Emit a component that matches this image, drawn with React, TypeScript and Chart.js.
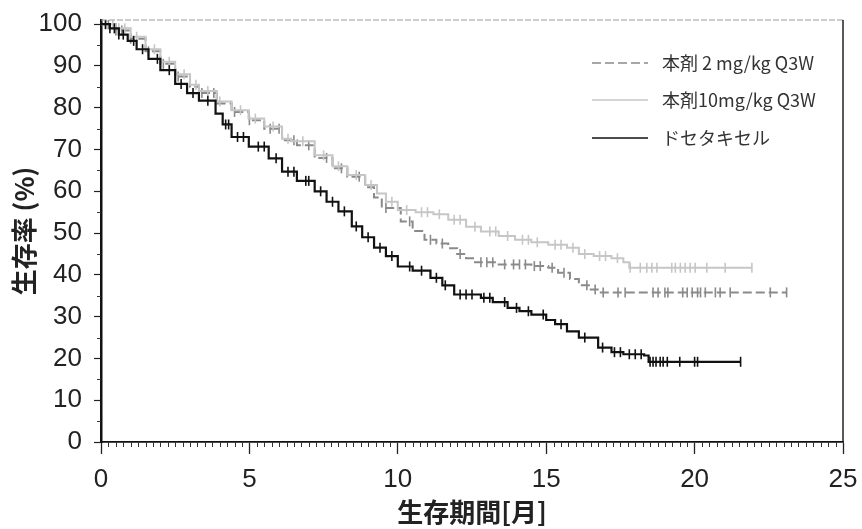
import React, { useEffect, useRef } from "react";
import { Chart, registerables } from "chart.js";

Chart.register(...registerables);

// ---- data ----
const X_TICKS = [0, 5, 10, 15, 20, 25];
const Y_TICKS = [0, 10, 20, 30, 40, 50, 60, 70, 80, 90, 100];

const SERIES_LABELS = ["本剤 2 mg/kg Q3W", "本剤10mg/kg Q3W", "ドセタキセル"];

const T_2MG = [0, 0.5, 1, 1.5, 2, 2.5, 3, 3.3, 3.9, 4.4, 4.98, 5.5, 6.1, 6.6, 7.2, 7.8, 8.3, 8.9, 9.2, 9.46, 10.1, 10.5, 10.9, 11.3, 11.7, 12.0, 12.3, 12.6, 13.4, 14.5, 15.07, 15.4, 15.8, 16.1, 16.5, 16.8, 23.1];
const S_2MG = [100, 98.5, 96.5, 93.5, 90.5, 87.5, 85, 83.5, 81, 79, 77, 75, 72.2, 71, 68, 65.5, 63.5, 61, 58.5, 56, 52.8, 50.5, 48.4, 47.5, 46.4, 45, 44, 43, 42.5, 42.1, 41.7, 40.5, 39, 37.5, 36.5, 35.8, 35.8];
const C_2MG = [0.25, 0.5, 0.7, 1.0, 1.6, 2.1, 2.6, 3.4, 3.8, 4.5, 5.0, 5.7, 6.0, 6.5, 7.0, 7.6, 8.1, 8.7, 9.6, 10.4, 11.1, 11.5, 12.1, 12.8, 13.0, 13.2, 13.6, 13.9, 14.1, 14.3, 14.6, 14.8, 15.2, 15.6, 16.37, 16.65, 16.92, 17.42, 17.66, 18.6, 18.77, 19.0, 19.1, 19.6, 19.75, 19.92, 20.1, 20.2, 20.36, 20.7, 20.86, 21.2, 22.55, 23.1];

const T_10MG = [0, 0.5, 1, 1.5, 2, 2.5, 3, 3.3, 3.9, 4.4, 4.98, 5.5, 6.1, 6.4, 7.2, 7.8, 8.3, 8.9, 9.3, 9.6, 10.0, 10.6, 11.2, 11.7, 12.3, 12.8, 13.4, 13.95, 14.5, 15.07, 15.7, 16.1, 16.6, 17.2, 17.6, 17.8, 21.93];
const S_10MG = [100, 99, 97, 94, 91, 88, 85.5, 84, 81.5, 79.4, 77.4, 75.5, 72.6, 72, 68.6, 66, 63.9, 61.5, 59.5, 57.5, 55.5, 55, 54.5, 53.2, 51.5, 50.4, 49.3, 48.4, 47.8, 47.2, 46.5, 45, 44.5, 44, 43, 41.7, 41.7];
const C_10MG = [0.2, 0.4, 0.6, 0.8, 1.2, 1.8, 2.3, 2.8, 3.2, 3.6, 4.0, 4.7, 5.2, 5.8, 6.3, 6.8, 7.5, 8.0, 8.6, 9.1, 9.8, 10.3, 10.8, 11.0, 11.4, 11.9, 12.1, 12.6, 13.1, 13.3, 13.7, 14.2, 14.4, 14.7, 15.3, 15.5, 15.9, 16.3, 16.8, 17.0, 17.4, 17.83, 18.17, 18.39, 18.56, 18.73, 19.23, 19.35, 19.52, 19.68, 19.85, 20.02, 20.41, 21.03, 21.93];

const T_DOC = [0, 0.3, 0.6, 0.9, 1.2, 1.6, 2.0, 2.5, 2.9, 3.3, 3.86, 4.1, 4.4, 4.98, 5.65, 6.1, 6.6, 7.2, 7.6, 8.0, 8.45, 8.8, 9.2, 9.6, 10.0, 10.5, 11.1, 11.5, 11.9, 12.8, 13.2, 13.7, 14.1, 14.5, 15.0, 15.3, 15.7, 16.1, 16.75, 17.2, 17.6, 18.3, 18.45, 21.55];
const S_DOC = [100, 99, 97.5, 96, 94, 91.7, 89, 85.7, 83.5, 81.7, 78.6, 76, 73, 70.7, 67.9, 64.7, 62.5, 60, 57.5, 55.2, 51.6, 49, 46.5, 44.5, 42, 41, 39.3, 37.5, 35.3, 34.5, 33.5, 32.1, 31.3, 30.5, 29.2, 28.2, 26.5, 25, 22.6, 21.5, 21.0, 20.7, 19.2, 19.2];
const C_DOC = [0.15, 0.3, 0.45, 0.6, 0.75, 1.1, 1.4, 1.9, 2.3, 2.7, 3.1, 3.6, 4.2, 4.3, 4.6, 4.8, 5.3, 5.5, 5.9, 6.3, 6.5, 6.9, 7.0, 7.4, 7.8, 8.2, 8.6, 9.0, 9.4, 9.8, 10.4, 10.8, 11.3, 11.6, 12.1, 12.3, 12.5, 12.9, 13.1, 13.6, 14.0, 14.4, 14.9, 15.5, 16.3, 16.9, 17.3, 17.5, 17.8, 18.0, 18.2, 18.5, 18.6, 18.7, 18.84, 18.94, 19.08, 19.5, 20.0, 20.1, 21.55];

// ---- styles ----
const COLORS = ["#8a8a8a", "#c6c6c6", "#111111"];
const DASHES: number[][] = [[9, 4], [], []];

const FONT_NUM = "'Liberation Sans', Arial, sans-serif";
const FONT_JP = "'Noto Sans CJK JP', 'Noto Sans', sans-serif";

function zip(ts: number[], ss: number[]) {
  return ts.map((t, i) => ({ x: t, y: ss[i] }));
}

function valueAt(ts: number[], ss: number[], t: number) {
  let v = ss[0];
  for (let i = 0; i < ts.length; i++) {
    if (ts[i] <= t) v = ss[i];
    else break;
  }
  return v;
}

function censorPoints(cs: number[], ts: number[], ss: number[]) {
  return cs.map((c) => ({ x: c, y: valueAt(ts, ss, c) }));
}

const framePlugin = {
  id: "frameAndMinor",
  afterDraw(chart: any) {
    const { ctx, chartArea, scales } = chart;
    const xs = scales.x;
    const ys = scales.y;
    ctx.save();
    // top & right border
    ctx.strokeStyle = "#9a9a9a";
    ctx.lineWidth = 1.2;
    ctx.setLineDash([6, 2]);
    ctx.beginPath();
    ctx.moveTo(chartArea.left, chartArea.top);
    ctx.lineTo(chartArea.right, chartArea.top);
    ctx.stroke();
    ctx.setLineDash([]);
    ctx.strokeStyle = "#222";
    ctx.lineWidth = 1.5;
    ctx.beginPath();
    ctx.moveTo(chartArea.right, chartArea.top);
    ctx.lineTo(chartArea.right, chartArea.bottom);
    ctx.stroke();
    // minor ticks on x
    ctx.strokeStyle = "#333";
    ctx.lineWidth = 1;
    ctx.beginPath();
    for (let i = 1; i < 100; i++) {
      const v = i * 0.25;
      if (i % 20 === 0) continue;
      const px = Math.round(xs.getPixelForValue(v)) + 0.5;
      ctx.moveTo(px, chartArea.bottom);
      ctx.lineTo(px, chartArea.bottom + 5);
    }
    // minor ticks on y
    for (let v = 5; v < 100; v += 10) {
      const py = Math.round(ys.getPixelForValue(v)) + 0.5;
      ctx.moveTo(chartArea.left, py);
      ctx.lineTo(chartArea.left - 4, py);
    }
    ctx.stroke();

    // legend
    const rows = [63, 100, 138];
    for (let i = 0; i < 3; i++) {
      const y = rows[i];
      ctx.strokeStyle = COLORS[i];
      ctx.lineWidth = 1.6;
      ctx.setLineDash(DASHES[i]);
      ctx.beginPath();
      ctx.moveTo(592, y);
      ctx.lineTo(648, y);
      ctx.stroke();
      ctx.setLineDash([]);
      ctx.fillStyle = "#333";
      ctx.font = "18px " + FONT_JP;
      ctx.textBaseline = "middle";
      ctx.textAlign = "left";
      ctx.fillText(SERIES_LABELS[i], 662, y);
    }
    ctx.restore();
  },
};

export default function App() {
  const ref = useRef<HTMLCanvasElement | null>(null);

  useEffect(() => {
    document.body.style.margin = "0";
    const canvas = ref.current;
    if (!canvas) return;

    const curves = [
      [T_2MG, S_2MG, C_2MG],
      [T_10MG, S_10MG, C_10MG],
      [T_DOC, S_DOC, C_DOC],
    ];

    const datasets: any[] = [];
    curves.forEach(([ts, ss], i) => {
      datasets.push({
        type: "line",
        label: SERIES_LABELS[i],
        data: zip(ts, ss),
        borderColor: COLORS[i],
        borderWidth: i === 2 ? 2.2 : 2,
        borderDash: DASHES[i],
        stepped: "before",
        pointRadius: 0,
        fill: false,
        order: 3 - i,
      });
    });
    curves.forEach(([ts, ss, cs], i) => {
      datasets.push({
        type: "line",
        label: SERIES_LABELS[i] + " censor",
        data: censorPoints(cs, ts, ss),
        showLine: false,
        borderColor: COLORS[i],
        backgroundColor: COLORS[i],
        pointStyle: "line",
        rotation: 90,
        pointRadius: 5,
        pointBorderWidth: 1.6,
        pointHoverRadius: 5,
        order: 3 - i,
      });
    });

    const chart = new Chart(canvas, {
      type: "line",
      data: { datasets },
      options: {
        animation: false,
        responsive: false,
        maintainAspectRatio: false,
        events: [],
        layout: { padding: { top: 20, right: 19, bottom: 0, left: 0 } },
        plugins: { legend: { display: false }, tooltip: { enabled: false } },
        scales: {
          x: {
            type: "linear",
            min: 0,
            max: 25,
            afterBuildTicks: (s: any) => {
              s.ticks = X_TICKS.map((v) => ({ value: v }));
            },
            afterFit: (s: any) => {
              s.height = 87;
              s.paddingRight = 0;
              s.paddingLeft = 0;
            },
            ticks: {
              color: "#222",
              font: { family: FONT_NUM, size: 26 },
              padding: 10,
              maxRotation: 0,
              autoSkip: false,
            },
            grid: {
              drawOnChartArea: false,
              drawTicks: true,
              tickLength: 12,
              tickColor: "#222",
              tickWidth: 1.3,
            },
            border: { display: true, color: "#111", width: 1.8 },
            title: {
              display: true,
              text: "生存期間[月]",
              color: "#222",
              font: { family: FONT_JP, size: 26, weight: "bold" },
              padding: { top: 0, bottom: 1 },
            },
          },
          y: {
            type: "linear",
            min: 0,
            max: 101,
            afterBuildTicks: (s: any) => {
              s.ticks = Y_TICKS.map((v) => ({ value: v }));
            },
            afterFit: (s: any) => {
              s.width = 101;
              s.paddingTop = 0;
              s.paddingBottom = 0;
            },
            ticks: {
              color: "#222",
              font: { family: FONT_NUM, size: 26 },
              padding: 12,
              autoSkip: false,
            },
            grid: {
              drawOnChartArea: false,
              drawTicks: true,
              tickLength: 7,
              tickColor: "#222",
              tickWidth: 1.2,
            },
            border: { display: true, color: "#111", width: 2.5 },
            title: {
              display: true,
              text: "生存率 (%)",
              color: "#222",
              font: { family: FONT_JP, size: 26, weight: "bold" },
              padding: { top: 9, bottom: 0 },
            },
          },
        },
      } as any,
      plugins: [framePlugin],
    });

    return () => chart.destroy();
  }, []);

  return (
    <div style={{ width: 862, height: 529, position: "relative", background: "#fff" }}>
      <canvas ref={ref} width={862} height={529} style={{ width: 862, height: 529, display: "block" }} />
    </div>
  );
}
